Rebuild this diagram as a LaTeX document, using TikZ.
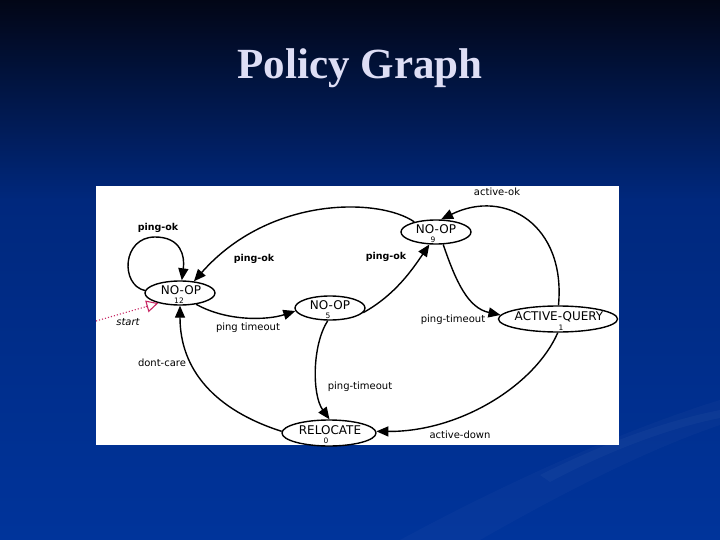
\documentclass[tikz,border=0pt]{standalone}
\usepackage{fontspec}
\setmainfont{DejaVu Sans}
\newfontfamily\titlefont{Liberation Serif}
\usetikzlibrary{arrows.meta,shapes.geometric,calc}
\definecolor{bgtop}{RGB}{2,6,22}
\definecolor{bgmid}{RGB}{0,40,125}
\definecolor{bgbot}{RGB}{0,52,155}
\definecolor{titlecol}{RGB}{222,222,245}
\definecolor{startcol}{RGB}{200,40,100}
\tikzset{
  state/.style={draw=black,ellipse,line width=1.4pt,inner sep=0pt,fill=white},
  stxt/.style={inner sep=0pt,font=\fontsize{12}{12}\selectfont},
  idx/.style={inner sep=0pt,font=\fontsize{7.5}{7.5}\selectfont},
  lbl/.style={inner sep=0pt,font=\fontsize{10}{10}\selectfont},
  blbl/.style={inner sep=0pt,font=\fontsize{9.5}{10}\selectfont\bfseries},
  edge/.style={draw=black,line width=1.4pt,-{Triangle[length=12pt,width=10pt]}},
}
\begin{document}
\begin{tikzpicture}[x=1pt,y=-1pt]
\useasboundingbox (0,0) rectangle (720,540);
% background
\shade[top color=bgtop,bottom color=bgmid] (0,0) rectangle (720,200);
\shade[top color=bgmid,bottom color=bgbot] (0,200) rectangle (720,540);
\fill[white,opacity=0.025] (400,540) .. controls (530,470) and (640,425) .. (720,400) -- (720,425) .. controls (640,452) and (550,500) .. (480,540) -- cycle;
\fill[white,opacity=0.03] (540,475) .. controls (610,440) and (670,420) .. (720,410) -- (720,418) .. controls (670,428) and (610,450) .. (550,482) -- cycle;
% title
\node[font=\titlefont\fontsize{43}{43}\selectfont\bfseries,text=titlecol] (title) at (360,68) {Policy Graph};
% panel
\fill[white] (96,186) rectangle (619,445);
% states
\node[state,minimum width=70pt,minimum height=24pt] (n12) at (180,293) {};
\node[stxt] (t12) at (181,290) {NO-OP};
\node[idx] (i12) at (179,301) {12};
\node[state,minimum width=70pt,minimum height=24pt] (n5) at (330,308) {};
\node[stxt] (t5) at (330,305) {NO-OP};
\node[idx] (i5) at (328,316) {5};
\node[state,minimum width=70pt,minimum height=24pt] (n9) at (436,232) {};
\node[stxt] (t9) at (436,229) {NO-OP};
\node[idx] (i9) at (433,240) {9};
\node[state,minimum width=119pt,minimum height=26pt] (aq) at (558,319) {};
\node[stxt] (taq) at (559,317) {ACTIVE-QUERY};
\node[idx] (iaq) at (561,328) {1};
\node[state,minimum width=94pt,minimum height=26pt] (rel) at (329,433) {};
\node[stxt] (trel) at (330,430) {RELOCATE};
\node[idx] (irel) at (326,441) {0};
% start
\coordinate (s0) at (96,321);
\draw[startcol,line width=1.1pt,dotted] (s0) -- ($(s0)!0.80!(n12.205)$) coordinate (s1);
\draw[startcol,line width=1.1pt,-{Triangle[open,length=12pt,width=12pt]}] (s1) -- (n12.205);
\node[inner sep=0pt,font=\fontsize{10}{10}\selectfont\itshape] (lstart) at (128,322) {start};
% edges
\draw[edge] (n12.176) .. controls (120,285) and (122,237) .. (155,237) .. controls (181,237) and (185,256) .. (n12.82);
\draw[edge] (n9.155) .. controls (380,198) and (270,195) .. (n12.40);
\draw[edge] (n12.-35) .. controls (228,322) and (268,320) .. (n5.185);
\draw[edge] (n5.-8) .. controls (395,295) and (412,270) .. (n9.-118);
\draw[edge] (n9.-60) .. controls (456,282) and (468,308) .. (aq.176);
\draw[edge] (aq.88) .. controls (566,225) and (505,188) .. (n9.68);
\draw[edge] (n5.-100) .. controls (312,345) and (312,395) .. (rel.88);
\draw[edge] (aq.-91) .. controls (535,385) and (460,432) .. (rel.2);
\draw[edge] (rel.178) .. controls (215,410) and (180,370) .. (n12.-90);
% labels
\node[blbl] (l1) at (158,228) {ping-ok};
\node[blbl] (l2) at (254,259) {ping-ok};
\node[lbl] (l3) at (248,328) {ping timeout};
\node[blbl] (l4) at (386,257) {ping-ok};
\node[lbl] (l5) at (453,320) {ping-timeout};
\node[lbl] (l6) at (497,192) {active-ok};
\node[lbl] (l7) at (360,387) {ping-timeout};
\node[lbl] (l8) at (460,435) {active-down};
\node[lbl] (l9) at (162,363) {dont-care};
\end{tikzpicture}
\end{document}
